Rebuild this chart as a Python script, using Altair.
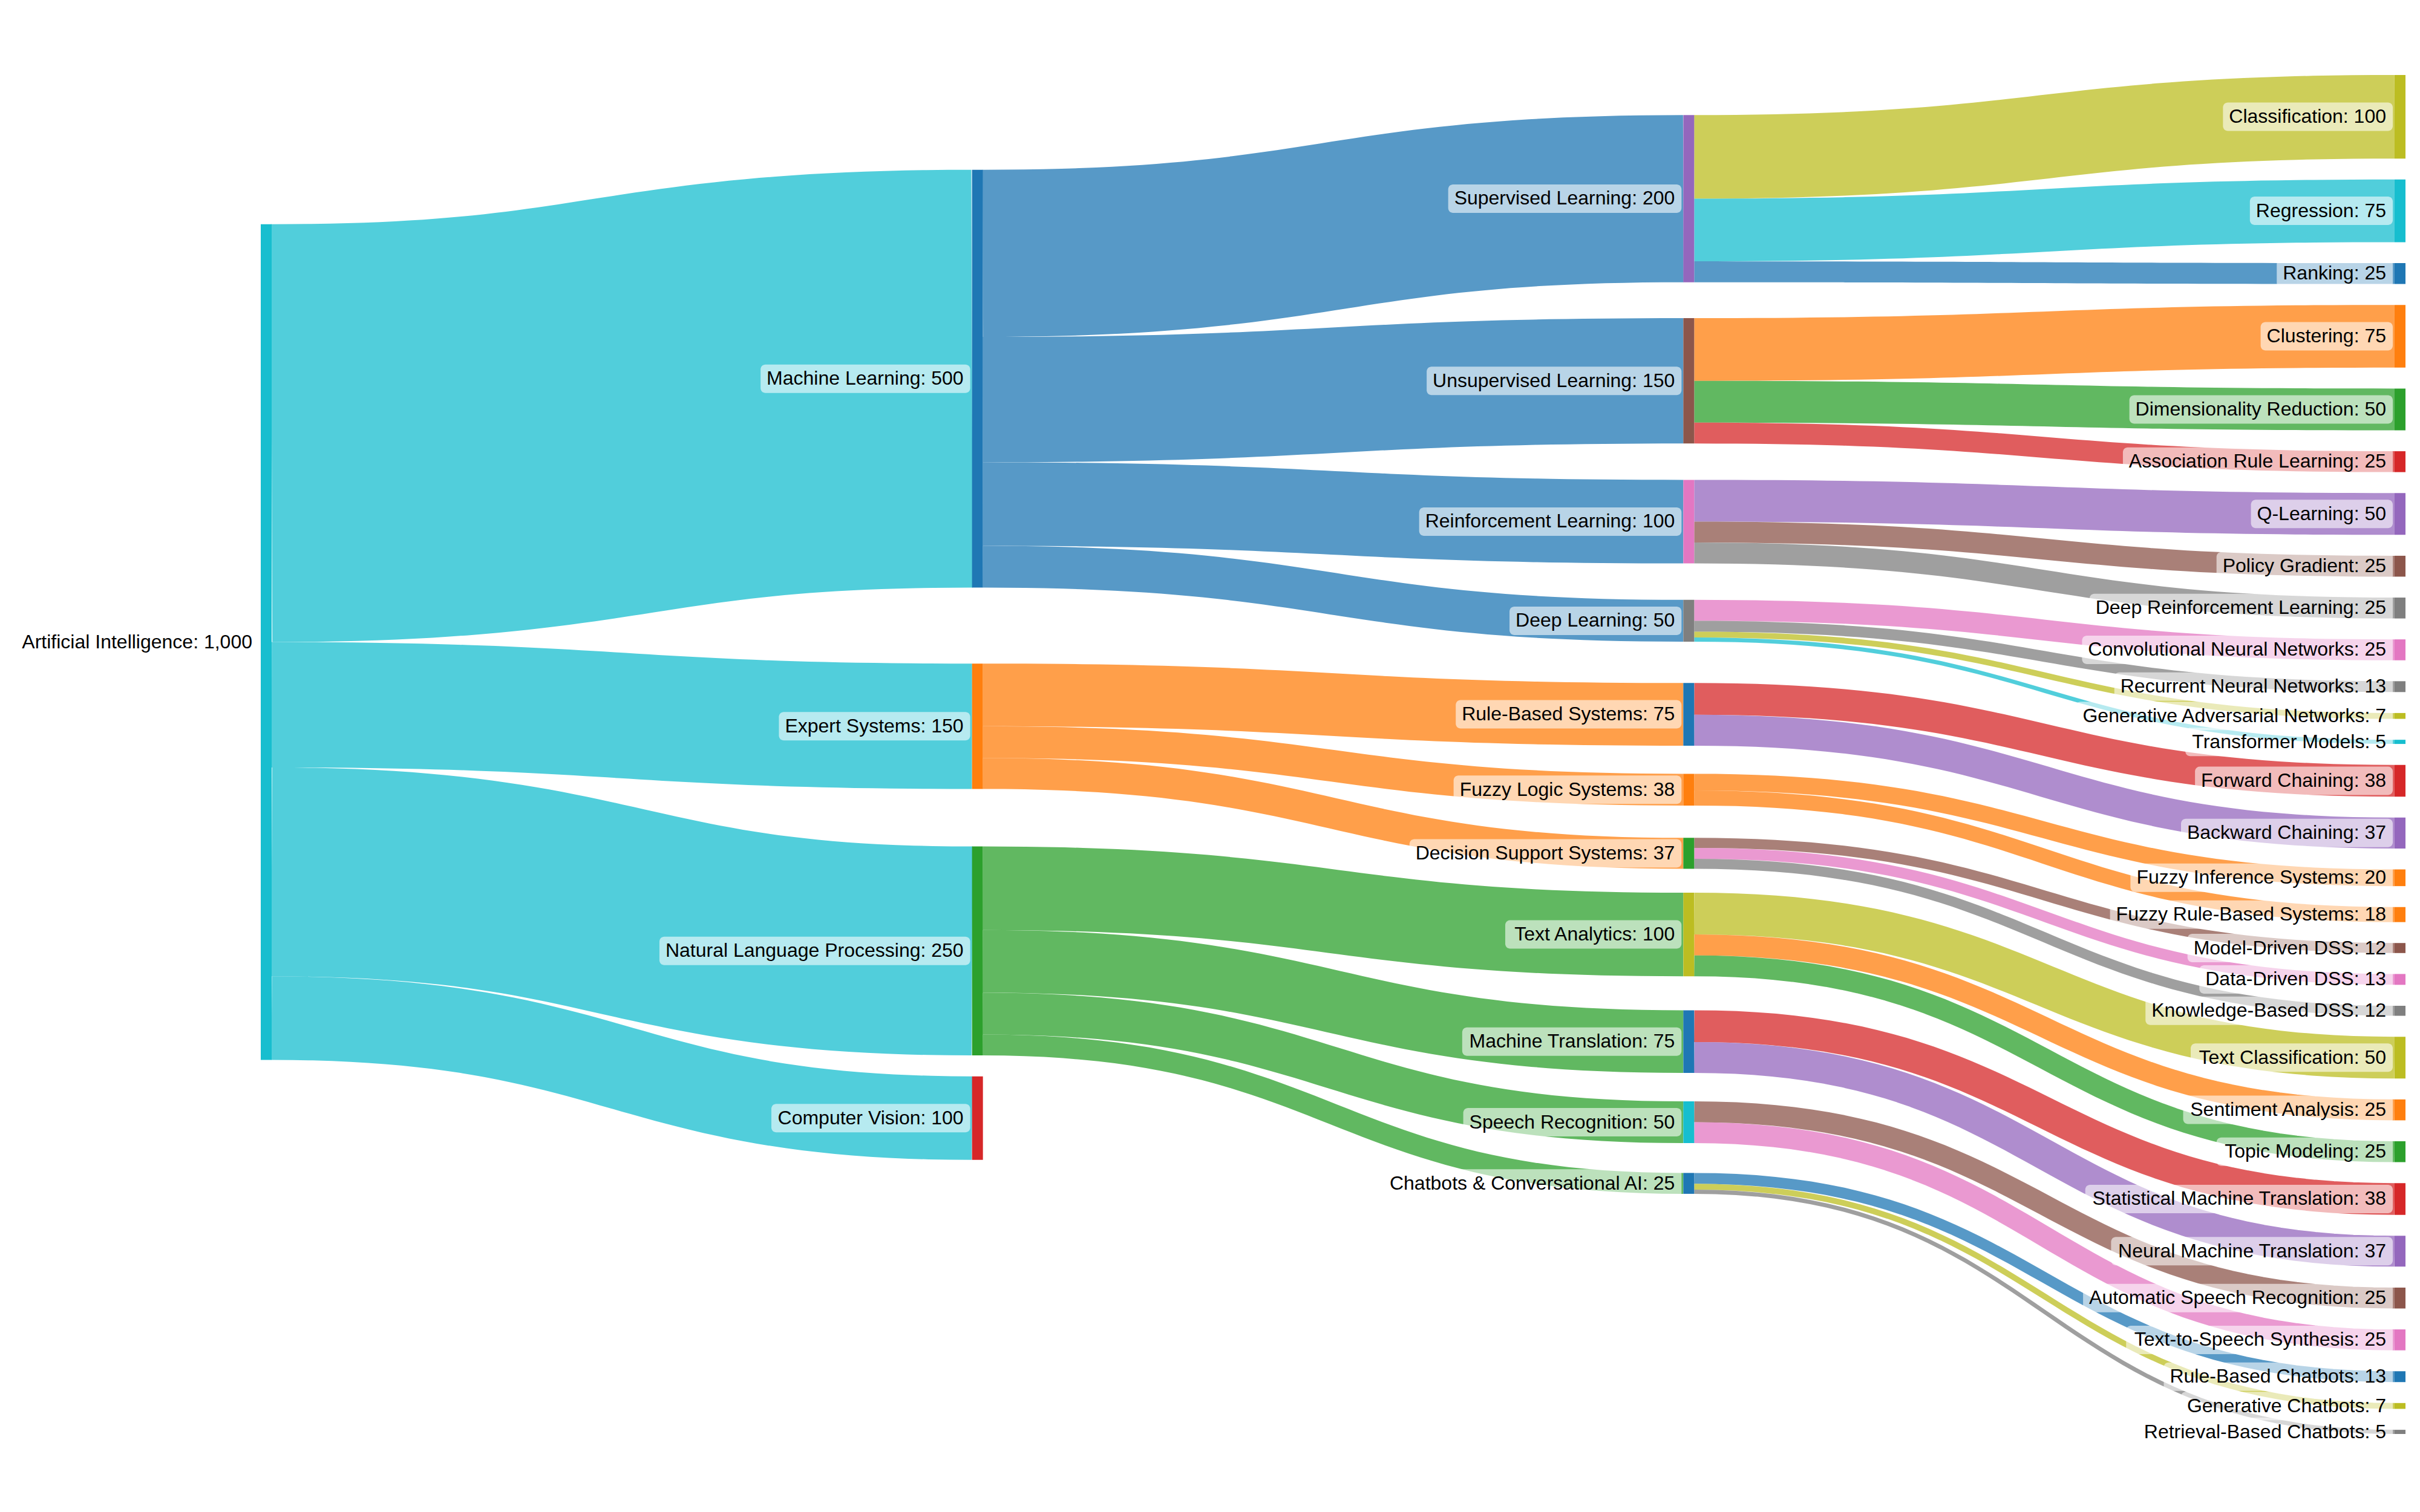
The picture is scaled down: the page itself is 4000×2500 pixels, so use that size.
import altair as alt
import pandas as pd

# ---------------- data ----------------
sources = [
    "Artificial Intelligence", "Artificial Intelligence", "Artificial Intelligence", "Artificial Intelligence",
    "Machine Learning", "Machine Learning", "Machine Learning", "Machine Learning",
    "Expert Systems", "Expert Systems", "Expert Systems",
    "Natural Language Processing", "Natural Language Processing", "Natural Language Processing", "Natural Language Processing",
    "Supervised Learning", "Supervised Learning", "Supervised Learning",
    "Unsupervised Learning", "Unsupervised Learning", "Unsupervised Learning",
    "Reinforcement Learning", "Reinforcement Learning", "Reinforcement Learning",
    "Deep Learning", "Deep Learning", "Deep Learning", "Deep Learning",
    "Rule-Based Systems", "Rule-Based Systems",
    "Fuzzy Logic Systems", "Fuzzy Logic Systems",
    "Decision Support Systems", "Decision Support Systems", "Decision Support Systems",
    "Text Analytics", "Text Analytics", "Text Analytics",
    "Machine Translation", "Machine Translation",
    "Speech Recognition", "Speech Recognition",
    "Chatbots & Conversational AI", "Chatbots & Conversational AI", "Chatbots & Conversational AI",
]
targets = [
    "Machine Learning", "Expert Systems", "Natural Language Processing", "Computer Vision",
    "Supervised Learning", "Unsupervised Learning", "Reinforcement Learning", "Deep Learning",
    "Rule-Based Systems", "Fuzzy Logic Systems", "Decision Support Systems",
    "Text Analytics", "Machine Translation", "Speech Recognition", "Chatbots & Conversational AI",
    "Classification", "Regression", "Ranking",
    "Clustering", "Dimensionality Reduction", "Association Rule Learning",
    "Q-Learning", "Policy Gradient", "Deep Reinforcement Learning",
    "Convolutional Neural Networks", "Recurrent Neural Networks", "Generative Adversarial Networks", "Transformer Models",
    "Forward Chaining", "Backward Chaining",
    "Fuzzy Inference Systems", "Fuzzy Rule-Based Systems",
    "Model-Driven DSS", "Data-Driven DSS", "Knowledge-Based DSS",
    "Text Classification", "Sentiment Analysis", "Topic Modeling",
    "Statistical Machine Translation", "Neural Machine Translation",
    "Automatic Speech Recognition", "Text-to-Speech Synthesis",
    "Rule-Based Chatbots", "Generative Chatbots", "Retrieval-Based Chatbots",
]
values = [
    500, 150, 250, 100,
    200, 150, 100, 50,
    75, 38, 37,
    100, 75, 50, 25,
    100, 75, 25,
    75, 50, 25,
    50, 25, 25,
    25, 13, 7, 5,
    38, 37,
    20, 18,
    12, 13, 12,
    50, 25, 25,
    38, 37,
    25, 25,
    13, 7, 5,
]

# ---------------- style ----------------
BLUE, ORANGE, GREEN, RED, PURPLE = "#1f77b4", "#ff7f0e", "#2ca02c", "#d62728", "#9467bd"
BROWN, PINK, GRAY, OLIVE, CYAN = "#8c564b", "#e377c2", "#7f7f7f", "#bcbd22", "#17becf"
node_colors = {
    "Artificial Intelligence": CYAN,
    "Machine Learning": BLUE, "Expert Systems": ORANGE,
    "Natural Language Processing": GREEN, "Computer Vision": RED,
    "Supervised Learning": PURPLE, "Unsupervised Learning": BROWN,
    "Reinforcement Learning": PINK, "Deep Learning": GRAY,
    "Rule-Based Systems": BLUE, "Fuzzy Logic Systems": ORANGE,
    "Decision Support Systems": GREEN, "Text Analytics": OLIVE,
    "Machine Translation": BLUE, "Speech Recognition": CYAN,
    "Chatbots & Conversational AI": BLUE,
    "Classification": OLIVE, "Regression": CYAN, "Ranking": BLUE,
    "Clustering": ORANGE, "Dimensionality Reduction": GREEN, "Association Rule Learning": RED,
    "Q-Learning": PURPLE, "Policy Gradient": BROWN, "Deep Reinforcement Learning": GRAY,
    "Convolutional Neural Networks": PINK, "Recurrent Neural Networks": GRAY,
    "Generative Adversarial Networks": OLIVE, "Transformer Models": CYAN,
    "Forward Chaining": RED, "Backward Chaining": PURPLE,
    "Fuzzy Inference Systems": ORANGE, "Fuzzy Rule-Based Systems": ORANGE,
    "Model-Driven DSS": BROWN, "Data-Driven DSS": PINK, "Knowledge-Based DSS": GRAY,
    "Text Classification": OLIVE, "Sentiment Analysis": ORANGE, "Topic Modeling": GREEN,
    "Statistical Machine Translation": RED, "Neural Machine Translation": PURPLE,
    "Automatic Speech Recognition": BROWN, "Text-to-Speech Synthesis": PINK,
    "Rule-Based Chatbots": BLUE, "Generative Chatbots": OLIVE, "Retrieval-Based Chatbots": GRAY,
}

W, H = 3984, 2484
X0, Y0, X1, Y1 = 423.0, 116.0, 3968.0, 2363.0
NODE_W = 18.0
PAD = 34.6
ITER = 100
FONT_SIZE = 32

# ---------------- sankey layout (d3-sankey algorithm, input order kept) ----------------
def sankey_layout():
    names = []
    for s, t in zip(sources, targets):
        for n in (s, t):
            if n not in names:
                names.append(n)
    idx = {n: i for i, n in enumerate(names)}
    nodes = [{"name": n, "index": i, "sl": [], "tl": []} for i, n in enumerate(names)]
    links = []
    for i, (s, t, v) in enumerate(zip(sources, targets, values)):
        l = {"s": nodes[idx[s]], "t": nodes[idx[t]], "value": v, "index": i}
        l["s"]["sl"].append(l)
        l["t"]["tl"].append(l)
        links.append(l)
    for n in nodes:
        n["value"] = max(sum(l["value"] for l in n["sl"]), sum(l["value"] for l in n["tl"]))
    current = [n["index"] for n in nodes]
    depth = 0
    while current:
        nxt = []
        for i in current:
            nodes[i]["depth"] = depth
            for l in nodes[i]["sl"]:
                j = l["t"]["index"]
                if j not in nxt:
                    nxt.append(j)
        depth += 1
        current = nxt
    ncol = max(n["depth"] for n in nodes) + 1
    kx = (X1 - X0 - NODE_W) / (ncol - 1)
    columns = [[] for _ in range(ncol)]
    for n in nodes:
        n["layer"] = n["depth"]
        n["x0"] = X0 + n["layer"] * kx
        n["x1"] = n["x0"] + NODE_W
        columns[n["layer"]].append(n)
    py = min(PAD, (Y1 - Y0) / (max(len(c) for c in columns) - 1))

    tkey = lambda l: (l["t"].get("y0", 0.0), l["index"])
    skey = lambda l: (l["s"].get("y0", 0.0), l["index"])

    def reorder_links(col):
        for n in col:
            n["sl"].sort(key=tkey)
            n["tl"].sort(key=skey)

    def reorder_node_links(n):
        for l in n["tl"]:
            l["s"]["sl"].sort(key=tkey)
        for l in n["sl"]:
            l["t"]["tl"].sort(key=skey)

    ky = min((Y1 - Y0 - (len(c) - 1) * py) / sum(n["value"] for n in c) for c in columns)
    for c in columns:
        y = Y0
        for n in c:
            n["y0"] = y
            n["y1"] = y + n["value"] * ky
            y = n["y1"] + py
            for l in n["sl"]:
                l["width"] = l["value"] * ky
        y = (Y1 - y + py) / (len(c) + 1)
        for i, n in enumerate(c):
            n["y0"] += y * (i + 1)
            n["y1"] += y * (i + 1)
        reorder_links(c)

    def target_top(source, target):
        y = source["y0"] - (len(source["sl"]) - 1) * py / 2
        for l in source["sl"]:
            if l["t"] is target:
                break
            y += l["width"] + py
        for l in target["tl"]:
            if l["s"] is source:
                break
            y -= l["width"]
        return y

    def source_top(source, target):
        y = target["y0"] - (len(target["tl"]) - 1) * py / 2
        for l in target["tl"]:
            if l["s"] is source:
                break
            y += l["width"] + py
        for l in source["sl"]:
            if l["t"] is target:
                break
            y -= l["width"]
        return y

    def top_to_bottom(col, y, i, alpha):
        while i < len(col):
            n = col[i]
            dy = (y - n["y0"]) * alpha
            if dy > 1e-6:
                n["y0"] += dy
                n["y1"] += dy
            y = n["y1"] + py
            i += 1

    def bottom_to_top(col, y, i, alpha):
        while i >= 0:
            n = col[i]
            dy = (n["y1"] - y) * alpha
            if dy > 1e-6:
                n["y0"] -= dy
                n["y1"] -= dy
            y = n["y0"] - py
            i -= 1

    def resolve(col, alpha):
        i = len(col) >> 1
        subj = col[i]
        bottom_to_top(col, subj["y0"] - py, i - 1, alpha)
        top_to_bottom(col, subj["y1"] + py, i + 1, alpha)
        bottom_to_top(col, Y1, len(col) - 1, alpha)
        top_to_bottom(col, Y0, 0, alpha)

    def relax_lr(alpha, beta):
        for ci in range(1, ncol):
            col = columns[ci]
            for tn in col:
                y = 0.0
                w = 0.0
                for l in tn["tl"]:
                    v = l["value"] * (tn["layer"] - l["s"]["layer"])
                    y += target_top(l["s"], tn) * v
                    w += v
                if not w > 0:
                    continue
                dy = (y / w - tn["y0"]) * alpha
                tn["y0"] += dy
                tn["y1"] += dy
                reorder_node_links(tn)
            resolve(col, beta)

    def relax_rl(alpha, beta):
        for ci in range(ncol - 2, -1, -1):
            col = columns[ci]
            for sn in col:
                y = 0.0
                w = 0.0
                for l in sn["sl"]:
                    v = l["value"] * (l["t"]["layer"] - sn["layer"])
                    y += source_top(sn, l["t"]) * v
                    w += v
                if not w > 0:
                    continue
                dy = (y / w - sn["y0"]) * alpha
                sn["y0"] += dy
                sn["y1"] += dy
                reorder_node_links(sn)
            resolve(col, beta)

    for i in range(ITER):
        alpha = 0.99 ** i
        beta = max(1 - alpha, (i + 1) / ITER)
        relax_rl(alpha, beta)
        relax_lr(alpha, beta)

    for n in nodes:
        n["sl"].sort(key=tkey)
        n["tl"].sort(key=skey)
    for n in nodes:
        a = n["y0"]
        b = a
        for l in n["sl"]:
            l["y0"] = a + l["width"] / 2
            a += l["width"]
        for l in n["tl"]:
            l["y1"] = b + l["width"] / 2
            b += l["width"]
    return nodes, links, ncol


nodes, links, ncol = sankey_layout()

# text width estimate (Arial / Liberation Sans advance widths, per 1000 em)
CW = {" ": 278, ":": 278, ",": 278, "-": 333, "&": 667, ".": 278}
CW.update({c: 556 for c in "0123456789"})
for c, w in zip("ABCDEFGHIJKLMNOPQRSTUVWXYZ",
                [667, 667, 722, 722, 667, 611, 778, 722, 278, 500, 667, 556, 833,
                 722, 778, 667, 778, 722, 667, 611, 722, 667, 944, 667, 667, 611]):
    CW[c] = w
for c, w in zip("abcdefghijklmnopqrstuvwxyz",
                [556, 556, 500, 556, 556, 278, 556, 556, 222, 222, 500, 222, 833,
                 556, 556, 556, 556, 333, 500, 278, 556, 500, 722, 500, 500, 500]):
    CW[c] = w


def text_w(s):
    return sum(CW.get(c, 556) for c in s) * FONT_SIZE / 1000.0


# ---------------- tables ----------------
link_rows = []
STEPS = 48
for l in links:
    sx, tx = l["s"]["x1"], l["t"]["x0"]
    sy, ty = l["y0"], l["y1"]
    xm = (sx + tx) / 2
    if l["t"]["layer"] == ncol - 1:
        col = node_colors[l["t"]["name"]]
    else:
        col = node_colors[l["s"]["name"]]
    for k in range(STEPS + 1):
        t = k / STEPS
        a, b, c, d = (1 - t) ** 3, 3 * (1 - t) ** 2 * t, 3 * (1 - t) * t ** 2, t ** 3
        link_rows.append({
            "link": l["index"], "k": k,
            "x": a * sx + b * xm + c * xm + d * tx,
            "y": a * sy + b * sy + c * ty + d * ty,
            "w": max(1.0, l["width"]), "color": col,
        })
link_df = pd.DataFrame(link_rows)

node_rows = []
label_rows = []
for n in nodes:
    node_rows.append({"x0": n["x0"], "x1": n["x1"], "y0": n["y0"], "y1": n["y1"],
                      "color": node_colors[n["name"]], "name": n["name"]})
    label = f"{n['name']}: {n['value']:,}"
    cy = (n["y0"] + n["y1"]) / 2
    tx = n["x0"] - 14
    tw = text_w(label)
    label_rows.append({"label": label, "x": tx, "y": cy,
                       "bx0": tx - tw - 10, "bx1": n["x0"] - 3,
                       "by0": cy - 23.5, "by1": cy + 23.5,
                       "has_in": len(n["tl"]) > 0})
node_df = pd.DataFrame(node_rows)
label_df = pd.DataFrame(label_rows)
box_df = label_df[label_df["has_in"]]

xs = alt.Scale(domain=[0, W], nice=False, zero=False)
ys = alt.Scale(domain=[0, H], nice=False, zero=False, reverse=True)

link_layer = alt.Chart(link_df).mark_line(strokeOpacity=0.75, strokeCap="butt").encode(
    x=alt.X("x:Q", scale=xs, axis=None),
    y=alt.Y("y:Q", scale=ys, axis=None),
    detail="link:N",
    order="k:Q",
    color=alt.Color("color:N", scale=None),
    size=alt.Size("w:Q", scale=None),
)

node_layer = alt.Chart(node_df).mark_rect().encode(
    x=alt.X("x0:Q", scale=xs, axis=None), x2="x1:Q",
    y=alt.Y("y0:Q", scale=ys, axis=None), y2="y1:Q",
    color=alt.Color("color:N", scale=None),
)

box_layer = alt.Chart(box_df).mark_rect(cornerRadius=8, fill="white", opacity=0.58).encode(
    x=alt.X("bx0:Q", scale=xs, axis=None), x2="bx1:Q",
    y=alt.Y("by0:Q", scale=ys, axis=None), y2="by1:Q",
)

text_layer = alt.Chart(label_df).mark_text(
    align="right", baseline="middle", font="Liberation Sans", fontSize=FONT_SIZE, color="black"
).encode(
    x=alt.X("x:Q", scale=xs, axis=None),
    y=alt.Y("y:Q", scale=ys, axis=None),
    text="label:N",
)

chart = alt.layer(link_layer, node_layer, box_layer, text_layer).properties(
    width=W, height=H, padding=0, autosize=alt.AutoSizeParams(type="none"),
    background="white",
).configure_view(strokeWidth=0)

chart.save("out.html", embed_options={"renderer": "svg", "actions": False})
